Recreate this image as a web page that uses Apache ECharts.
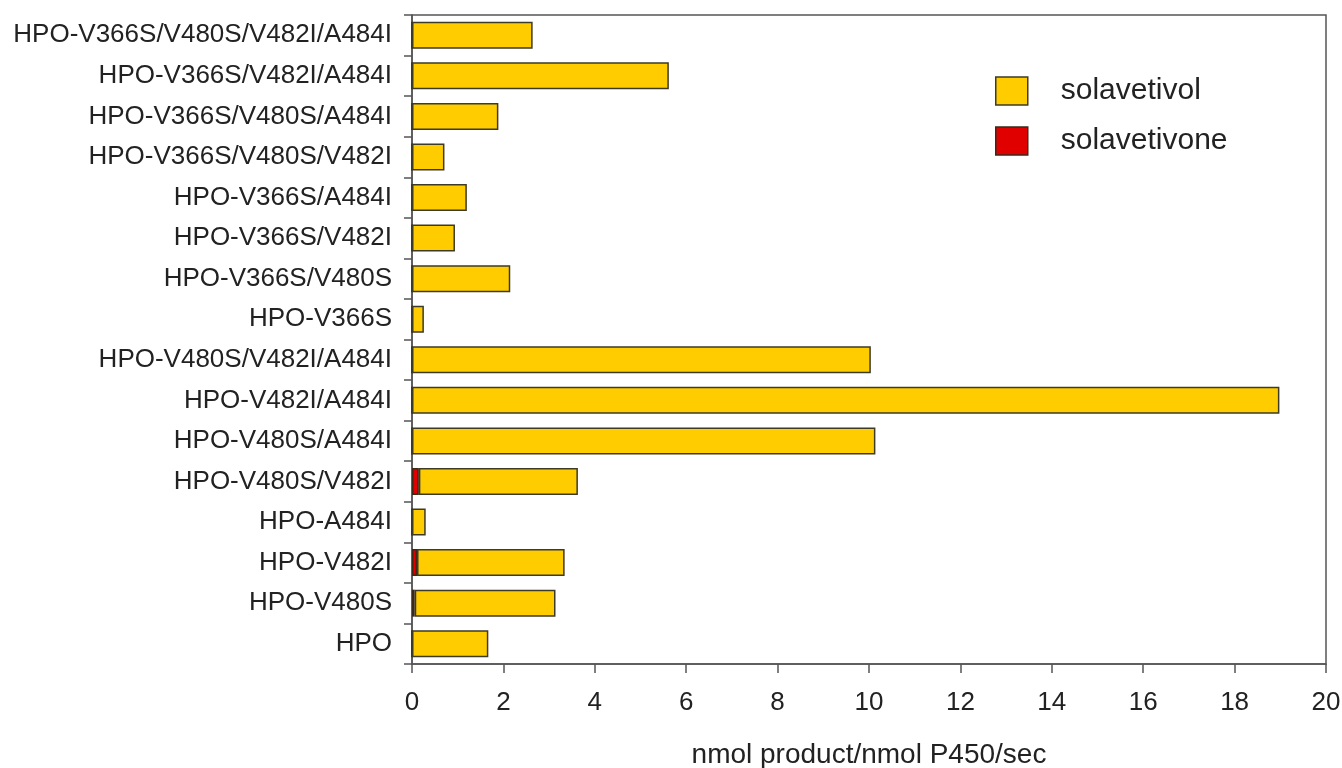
<!DOCTYPE html>
<html>
<head>
<meta charset="utf-8">
<script src="https://cdn.jsdelivr.net/npm/echarts@6/dist/echarts.min.js"></script>
<style>html,body{margin:0;padding:0;background:#fff;}#c{width:1342px;height:768px;}</style>
</head>
<body>
<div id="c"></div>
<script>
// Categories, top to bottom
var categories = [
  'HPO-V366S/V480S/V482I/A484I',
  'HPO-V366S/V482I/A484I',
  'HPO-V366S/V480S/A484I',
  'HPO-V366S/V480S/V482I',
  'HPO-V366S/A484I',
  'HPO-V366S/V482I',
  'HPO-V366S/V480S',
  'HPO-V366S',
  'HPO-V480S/V482I/A484I',
  'HPO-V482I/A484I',
  'HPO-V480S/A484I',
  'HPO-V480S/V482I',
  'HPO-A484I',
  'HPO-V482I',
  'HPO-V480S',
  'HPO'
];
var solavetivone = [0, 0, 0, 0, 0, 0, 0, 0, 0, 0, 0, 0.15, 0, 0.11, 0.06, 0];
var solavetivol = [2.64, 5.62, 1.89, 0.71, 1.20, 0.94, 2.15, 0.26, 10.04, 18.98, 10.14, 3.48, 0.30, 3.23, 3.08, 1.67];
var xTicks = {min: 0, max: 20, interval: 2};
var xTitle = 'nmol product/nmol P450/sec';

var font = '"Liberation Sans", Arial, Helvetica, sans-serif';
var chart = echarts.init(document.getElementById('c'), null, {renderer: 'canvas'});
chart.setOption({
  animation: false,
  backgroundColor: '#ffffff',
  textStyle: {fontFamily: font},
  grid: {left: 412, right: 16, top: 15, bottom: 104, show: true, borderColor: '#555', borderWidth: 1.5, containLabel: false, outerBoundsMode: 'none'},
  legend: {
    data: ['solavetivol', 'solavetivone'],
    orient: 'vertical',
    icon: 'rect',
    left: 990, top: 71,
    itemWidth: 32, itemHeight: 28, itemGap: 20,
    itemStyle: {borderWidth: 1.5},
    textStyle: {fontSize: 30, color: '#222', fontFamily: font, padding: [0, 0, 0, 28]}
  },
  xAxis: {
    type: 'value', min: xTicks.min, max: xTicks.max, interval: xTicks.interval,
    name: xTitle, nameLocation: 'middle', nameGap: 77,
    nameTextStyle: {fontSize: 28, color: '#222', fontFamily: font},
    axisLine: {show: true, lineStyle: {color: '#555', width: 1.5}},
    axisTick: {show: true, length: 9, lineStyle: {color: '#555', width: 1.5}},
    axisLabel: {fontSize: 26, color: '#222', margin: 26, fontFamily: font},
    splitLine: {show: false}
  },
  yAxis: {
    type: 'category', data: categories, inverse: true,
    axisLine: {show: true, lineStyle: {color: '#555', width: 1.5}},
    axisTick: {show: true, length: 8, alignWithLabel: false, lineStyle: {color: '#555', width: 1.5}},
    axisLabel: {fontSize: 26, color: '#222', margin: 20, fontFamily: font, interval: 0}
  },
  series: [
    {
      name: 'solavetivone', type: 'bar', stack: 'total', barWidth: 27,
      data: solavetivone,
      itemStyle: {color: '#E00000', borderColor: '#3a2a1a', borderWidth: 1.5}
    },
    {
      name: 'solavetivol', type: 'bar', stack: 'total', barWidth: 27,
      data: solavetivol,
      itemStyle: {color: '#FFCC00', borderColor: '#3d3a26', borderWidth: 1.5}
    }
  ]
});
</script>
</body>
</html>
